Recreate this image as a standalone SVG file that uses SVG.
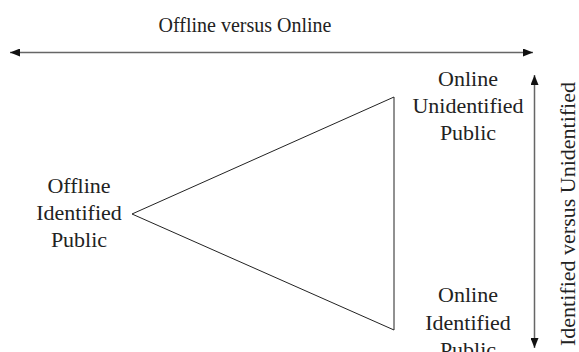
<svg xmlns="http://www.w3.org/2000/svg" width="579" height="352" viewBox="0 0 579 352">
<style>
text{font-family:"Liberation Serif","Times New Roman",serif;fill:#222;text-anchor:middle}
.n{font-size:22px}
.t{font-size:20px}
.ax{stroke:#666;stroke-width:1.5;fill:none}
</style>
<defs>
<marker id="ah" viewBox="0 0 10 8" refX="10" refY="4" markerWidth="10" markerHeight="8" markerUnits="userSpaceOnUse" orient="auto-start-reverse">
<path d="M0,0 L10,4 L0,8 Z" fill="#111"/>
</marker>
</defs>
<rect width="579" height="352" fill="#fff"/>
<g id="connectors">
<line class="ax" x1="10" y1="52.5" x2="533" y2="52.5" marker-start="url(#ah)" marker-end="url(#ah)"/>
<line class="ax" x1="534.5" y1="75" x2="534.5" y2="348" stroke="#333" marker-start="url(#ah)" marker-end="url(#ah)"/>
<polygon points="132,214 394,97 394,330" fill="none" stroke="#222" stroke-width="1"/>
</g>
<g id="title"><text class="t" x="245" y="32">Offline versus Online</text></g>
<g id="axis-label"><text class="n" transform="translate(575,214) rotate(-90)">Identified versus Unidentified</text></g>
<g id="offline-identified">
<text class="n" x="79" y="193">Offline</text>
<text class="n" x="79" y="220">Identified</text>
<text class="n" x="79" y="247">Public</text>
</g>
<g id="online-unidentified">
<text class="n" x="468" y="86">Online</text>
<text class="n" x="468" y="113">Unidentified</text>
<text class="n" x="468" y="140">Public</text>
</g>
<g id="online-identified">
<text class="n" x="468" y="302">Online</text>
<text class="n" x="468" y="330">Identified</text>
<text class="n" x="468" y="357">Public</text>
</g>
</svg>
